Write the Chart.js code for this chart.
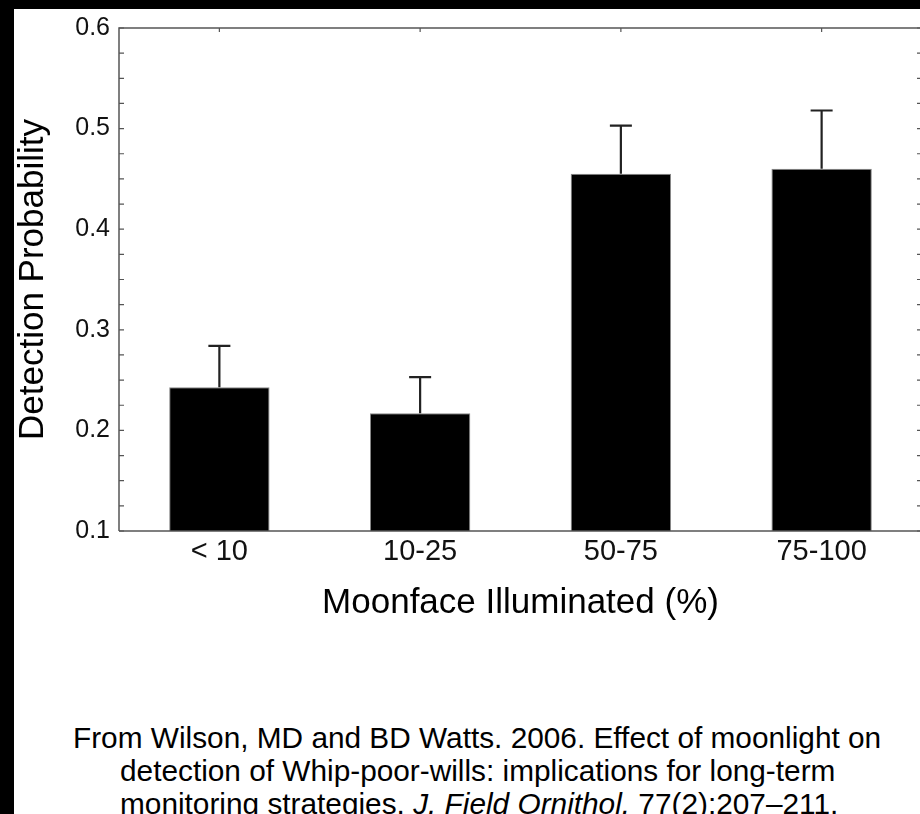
<!DOCTYPE html>
<html>
<head>
<meta charset="utf-8">
<script src="https://cdn.jsdelivr.net/npm/chart.js@4/dist/chart.umd.min.js"></script>
<style>
  html, body { margin: 0; padding: 0; background: #000; overflow: hidden; width: 920px; height: 814px; }
  #panel { position: absolute; left: 14px; top: 9px; width: 940px; height: 820px; background: #fff; }
  #wrap { position: absolute; left: 0; top: 0; width: 926px; height: 620px; }
  #cite {
    position: absolute; left: 106px; top: 712px;
    font-family: "Liberation Sans", Arial, sans-serif; font-size: 29.8px; line-height: 33px;
    color: #000; white-space: nowrap; text-indent: -47px;
  }
</style>
</head>
<body>
<div id="panel">
  <div id="wrap"><canvas id="chart"></canvas></div>
  <div id="cite">From Wilson, MD and BD Watts. 2006. Effect of moonlight on<br>detection of Whip-poor-wills: implications for long-term<br>monitoring strategies. <i>J. Field Ornithol.</i> 77(2):207–211.</div>
</div>
<script>
// Whip-poor-will detection probability by moon phase

const categories = ['< 10', '10-25', '50-75', '75-100'];
const detectionMean = [0.243, 0.217, 0.455, 0.460];
const detectionUpper = [0.284, 0.253, 0.503, 0.518];
const yTickValues = [0.1, 0.2, 0.3, 0.4, 0.5, 0.6];
const yMinorStep = 0.025;

const axisColor = '#555';
const fontFamily = '"Liberation Sans", Arial, sans-serif';

// error bars, frame on top/right and inward tick marks
const framePlugin = {
    id: 'frame',
    afterDatasetsDraw(chart) {
        const ctx = chart.ctx;
        const area = chart.chartArea;
        const x = chart.scales.x;
        const y = chart.scales.y;
        const meta = chart.getDatasetMeta(0);

        ctx.save();
        // error bars (upper only)
        ctx.strokeStyle = '#222';
        ctx.lineWidth = 2.2;
        meta.data.forEach((bar, i) => {
            const yTop = y.getPixelForValue(detectionUpper[i]);
            ctx.beginPath();
            ctx.moveTo(bar.x, bar.y);
            ctx.lineTo(bar.x, yTop);
            ctx.moveTo(bar.x - 11, yTop);
            ctx.lineTo(bar.x + 11, yTop);
            ctx.stroke();
        });

        // box frame
        ctx.strokeStyle = axisColor;
        ctx.lineWidth = 1.5;
        ctx.beginPath();
        ctx.moveTo(area.left, area.bottom);
        ctx.lineTo(area.left, area.top);
        ctx.lineTo(area.right, area.top);
        ctx.lineTo(area.right, area.bottom);
        ctx.lineTo(area.left, area.bottom);
        ctx.stroke();

        // y tick marks, pointing inward on both sides
        ctx.lineWidth = 1.2;
        ctx.beginPath();
        for (let v = y.min; v <= y.max + 1e-9; v += yMinorStep) {
            const py = y.getPixelForValue(v);
            ctx.moveTo(area.left, py);
            ctx.lineTo(area.left + 5, py);
            ctx.moveTo(area.right, py);
            ctx.lineTo(area.right - 5, py);
        }
        // top tick marks at category centres
        categories.forEach((c, i) => {
            const px = x.getPixelForValue(i);
            ctx.moveTo(px, area.top);
            ctx.lineTo(px, area.top + 4);
        });
        ctx.stroke();
        ctx.restore();
    }
};

const ctxChart = document.getElementById('chart');
new Chart(ctxChart, {
    type: 'bar',
    data: {
        labels: categories,
        datasets: [{
            label: 'Detection Probability',
            data: detectionMean,
            backgroundColor: '#000',
            borderColor: '#888',
            borderWidth: 1,
            barPercentage: 0.5,
            categoryPercentage: 1
        }]
    },
    options: {
        responsive: true,
        maintainAspectRatio: false,
        animation: false,
        layout: { padding: { top: 19, right: 18, left: 0, bottom: 5 } },
        plugins: {
            legend: { display: false },
            tooltip: { enabled: false }
        },
        scales: {
            x: {
                grid: { display: false, drawTicks: false },
                border: { display: false },
                ticks: {
                    color: '#111',
                    padding: 4,
                    font: { family: fontFamily, size: 29 }
                },
                title: {
                    display: true,
                    text: 'Moonface Illuminated (%)',
                    color: '#000',
                    padding: { bottom: 0 },
                    font: { family: fontFamily, size: 35 }
                },
                afterFit: (scale) => { scale.height = 93; }
            },
            y: {
                min: 0.1,
                max: 0.6,
                afterBuildTicks: (scale) => {
                    scale.ticks = yTickValues.map(v => ({ value: v }));
                },
                grid: { display: false, drawTicks: false },
                border: { display: false },
                ticks: {
                    color: '#111',
                    padding: 9,
                    font: { family: fontFamily, size: 25 },
                    callback: (v) => v.toFixed(1)
                },
                title: {
                    display: true,
                    text: 'Detection Probability',
                    color: '#000',
                    padding: { top: -2 },
                    font: { family: fontFamily, size: 35 }
                },
                afterFit: (scale) => {
                    scale.width = 105;
                    scale.paddingTop = 0;
                    scale.paddingBottom = 0;
                }
            }
        }
    },
    plugins: [framePlugin]
});
</script>
</body>
</html>
